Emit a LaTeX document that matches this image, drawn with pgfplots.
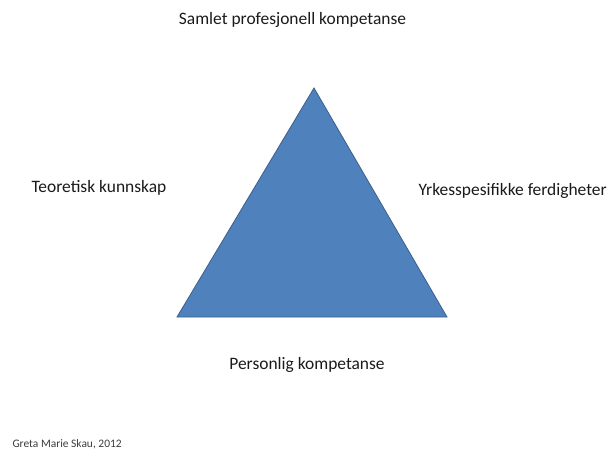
\documentclass[border=0pt]{standalone}
\usepackage{pgfplots}
\pgfplotsset{compat=1.18}
\usepackage{fontspec}
\setmainfont{Carlito}
\definecolor{triblue}{HTML}{4F81BD}
\definecolor{triedge}{HTML}{3A5F8B}
\definecolor{txt}{HTML}{1A1A1A}
\begin{document}
\begin{tikzpicture}
\begin{axis}[
  scale only axis, width=610bp, height=450bp,
  xmin=0, xmax=610, ymin=0, ymax=450, y dir=reverse,
  hide axis, clip=false,
]
\addplot[fill=triblue, draw=triedge, line width=0.8pt] coordinates {(314,88) (177,317) (447,317)} -- cycle;
\path[draw=none] (axis cs:0,0) rectangle (axis cs:610,450);
\node[font=\fontsize{17.5}{21}\selectfont, text=txt] at (axis cs:292.5,20) {Samlet profesjonell kompetanse};
\node[font=\fontsize{17.5}{21}\selectfont, text=txt, anchor=west] at (axis cs:28,188) {Teoretisk kunnskap};
\node[font=\fontsize{17.5}{21}\selectfont, text=txt, anchor=west] at (axis cs:415,191) {Yrkesspesifikke ferdigheter};
\node[font=\fontsize{17.5}{21}\selectfont, text=txt] at (axis cs:307,365) {Personlig kompetanse};
\node[font=\fontsize{11.5}{13}\selectfont, text=txt!85, anchor=west] at (axis cs:9,444) {Greta Marie Skau, 2012};
\end{axis}
\end{tikzpicture}
\end{document}
